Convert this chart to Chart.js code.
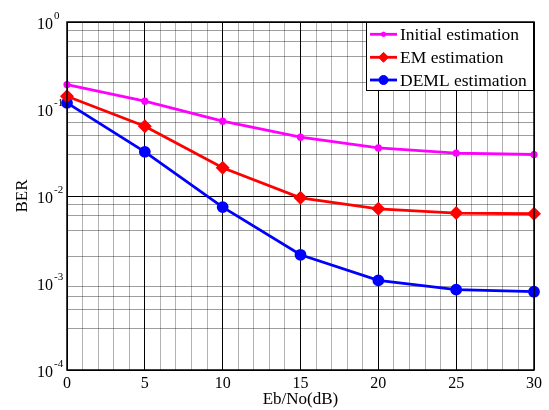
<!DOCTYPE html>
<html><head><meta charset="utf-8">
<script src="https://cdn.jsdelivr.net/npm/chart.js@4"></script>
<style>html,body{margin:0;padding:0;background:#fff}#wrap{width:549px;height:410px}</style>
</head><body><div id="wrap"><canvas id="c" width="549" height="410"></canvas></div>
<script>
const snr = [0, 5, 10, 15, 20, 25, 30];
const berInitial = [0.191, 0.123, 0.0724, 0.0475, 0.0357, 0.0311, 0.0300];
const berEM = [0.140, 0.0634, 0.0211, 0.00953, 0.00712, 0.00636, 0.00625];
const berDEML = [0.1175, 0.0322, 0.00746, 0.00211, 0.00107, 0.000838, 0.000794];
const seriesLabels = ['Initial estimation', 'EM estimation', 'DEML estimation'];
const xTickLabels = ['0', '5', '10', '15', '20', '25', '30'];
const yDecadeExponents = [-4, -3, -2, -1, 0];
const yMinorMultipliers = [2, 3, 4, 5, 6, 7, 8, 9];
const xTitle = 'Eb/No(dB)';
const yTitle = 'BER';

const FONT = '"Liberation Serif","Times New Roman",serif';
const yTicks = [];
yDecadeExponents.forEach((e, i) => {
  yTicks.push(Math.pow(10, e));
  if (i < yDecadeExponents.length - 1) yMinorMultipliers.forEach(m => yTicks.push(m * Math.pow(10, e)));
});
const isDecade = v => Math.abs(Math.log10(v) - Math.round(Math.log10(v))) < 1e-9;
const pts = arr => snr.map((x, i) => ({x, y: arr[i]}));

const styles = [
  {color: '#ff00ff', pointStyle: 'circle', radius: 2.2},
  {color: '#ff0000', pointStyle: 'rectRot', radius: 5},
  {color: '#0000ff', pointStyle: 'circle', radius: 4.5}
];
const series = [berInitial, berEM, berDEML];

const overlay = {
  id: 'overlay',
  afterDraw(chart) {
    const {ctx, chartArea: a, scales: {y}} = chart;
    ctx.save();
    ctx.strokeStyle = '#000'; ctx.lineWidth = 1.5;
    ctx.strokeRect(a.left, a.top, a.right - a.left, a.bottom - a.top);
    ctx.fillStyle = '#000';
    yDecadeExponents.forEach(e => {
      const py = y.getPixelForValue(Math.pow(10, e));
      ctx.font = '16px ' + FONT; ctx.textAlign = 'right'; ctx.textBaseline = 'alphabetic';
      ctx.fillText('10', a.left - 14, py + 6.5);
      ctx.font = '11px ' + FONT; ctx.textAlign = 'left';
      ctx.fillText(String(e), a.left - 13, py - 3.5);
    });
    // legend box
    const bx = a.right - 168, by = a.top, bw = 168, bh = 69;
    ctx.fillStyle = '#fff';
    ctx.fillRect(bx, by, bw, bh);
    ctx.strokeStyle = '#000'; ctx.lineWidth = 1;
    ctx.strokeRect(bx + 0.5, by + 0.5, bw - 1, bh - 1);
    const rows = [12.3, 35.3, 58];
    chart.data.datasets.forEach((ds, i) => {
      const ry = by + rows[i];
      ctx.strokeStyle = ds.borderColor; ctx.lineWidth = 2.8;
      ctx.beginPath(); ctx.moveTo(bx + 4, ry); ctx.lineTo(bx + 31, ry); ctx.stroke();
      ctx.fillStyle = ds.borderColor; ctx.strokeStyle = ds.borderColor; ctx.lineWidth = 1;
      Chart.helpers.drawPoint(ctx, {pointStyle: ds.pointStyle, radius: ds.pointRadius, rotation: 0, borderWidth: 1}, bx + 17.5, ry);
      ctx.fillStyle = '#000';
      ctx.font = '17.5px ' + FONT; ctx.textAlign = 'left'; ctx.textBaseline = 'middle';
      ctx.fillText(ds.label, bx + 34, ry + 1);
    });
    ctx.restore();
  }
};

new Chart(document.getElementById('c'), {
  type: 'line',
  data: {
    datasets: series.map((arr, i) => ({
      label: seriesLabels[i],
      data: pts(arr),
      borderColor: styles[i].color,
      backgroundColor: styles[i].color,
      pointBackgroundColor: styles[i].color,
      pointBorderColor: styles[i].color,
      pointStyle: styles[i].pointStyle,
      pointRadius: styles[i].radius,
      borderWidth: 2.8,
      tension: 0,
      clip: false
    }))
  },
  options: {
    responsive: false,
    animation: false,
    layout: {padding: {top: 22, right: 15, left: 0, bottom: 0}},
    plugins: {legend: {display: false}, tooltip: {enabled: false}},
    scales: {
      x: {
        type: 'linear', min: 0, max: 30,
        ticks: {stepSize: 1, autoSkip: false, maxRotation: 0, padding: 4, color: '#000',
          font: {family: FONT, size: 16},
          callback: v => (v % 5 === 0 ? xTickLabels[v / 5] : '')},
        grid: {color: c => (c.tick && c.tick.value % 5 === 0 ? '#000' : 'rgba(0,0,0,0.3)'), lineWidth: 1, drawTicks: false},
        border: {display: false},
        title: {display: true, text: xTitle, color: '#000', font: {family: FONT, size: 17}, padding: {top: 0, bottom: 0}},
        afterFit(s) { s.height = 40; }
      },
      y: {
        type: 'logarithmic', min: 1e-4, max: 1,
        afterBuildTicks(s) { s.ticks = yTicks.map(v => ({value: v})); },
        ticks: {callback: () => '', padding: 0},
        grid: {color: c => (c.tick && isDecade(c.tick.value) ? '#000' : 'rgba(0,0,0,0.38)'), lineWidth: 1, drawTicks: false},
        border: {display: false},
        title: {display: true, text: yTitle, color: '#000', font: {family: FONT, size: 17}, padding: {top: 12, bottom: 0}},
        afterFit(s) { s.width = 67; }
      }
    }
  },
  plugins: [overlay]
});
</script></body></html>
